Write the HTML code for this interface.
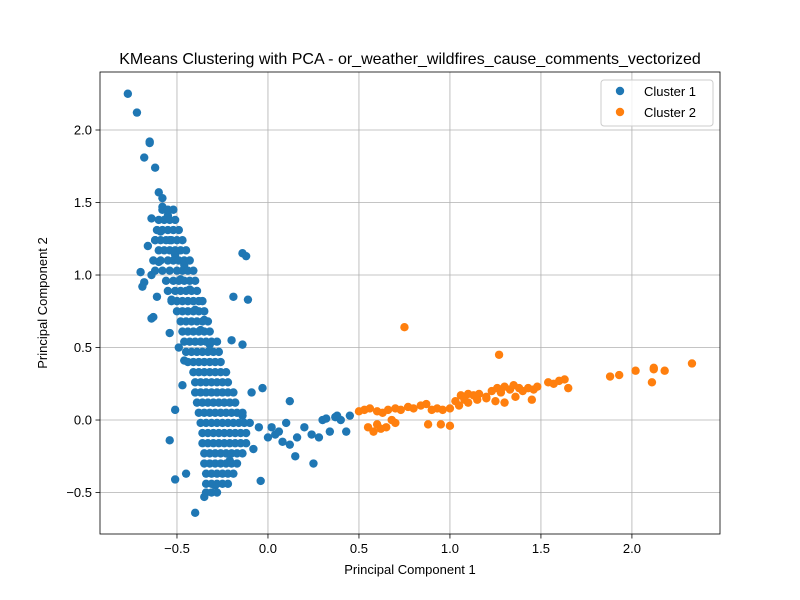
<!DOCTYPE html>
<html><head><meta charset="utf-8"><style>
body{margin:0;background:#fff;}
svg{display:block;font-family:"Liberation Sans","DejaVu Sans",sans-serif;}
</style></head><body>
<svg id="chart" width="800" height="600">
<rect width="800" height="600" fill="#fff"/>
<g id="grid"></g><g id="pts"></g><g id="axes"></g>
<text x="410" y="64" text-anchor="middle" font-size="16">KMeans Clustering with PCA - or_weather_wildfires_cause_comments_vectorized</text>
<text x="410" y="574" text-anchor="middle" font-size="13">Principal Component 1</text>
<text transform="translate(47,303) rotate(-90)" text-anchor="middle" font-size="13">Principal Component 2</text>
<g>
<rect x="601" y="80" width="112" height="46" fill="#fff" fill-opacity="0.8" stroke="#ccc" rx="3"/>
<circle cx="620" cy="91" r="4.2" fill="#1f77b4"/>
<text x="644" y="96" font-size="13">Cluster 1</text>
<circle cx="620" cy="112" r="4.2" fill="#ff7f0e"/>
<text x="644" y="117" font-size="13">Cluster 2</text>
</g>
</svg>
<script>
const xTicks=[-0.5,0.0,0.5,1.0,1.5,2.0];
const yTicks=[-0.5,0.0,0.5,1.0,1.5,2.0];
const xTickLabels=["−0.5","0.0","0.5","1.0","1.5","2.0"];
const yTickLabels=["−0.5","0.0","0.5","1.0","1.5","2.0"];
const c1x=[-0.77,-0.72,-0.65,-0.65,-0.68,-0.62,-0.6,-0.58,-0.58,-0.64,-0.55,-0.59,-0.62,-0.54,-0.51,-0.6,-0.64,-0.68,-0.69,-0.61,-0.63,-0.64,-0.53,-0.48,-0.46,-0.43,-0.4,-0.54,-0.49,-0.37,-0.35,-0.32,-0.46,-0.47,-0.51,-0.54,-0.51,-0.45,-0.4,-0.35,-0.29,-0.21,-0.14,-0.04,-0.03,-0.19,-0.11,-0.14,-0.12,-0.2,-0.14,-0.09,0.12,
0.04,0.12,0.16,0.2,0.28,0.34,0.4,0.45,0.25,0.15,0.08,0.02,0.3,0.37,0.24,0.06,0.1,-0.08,-0.05,0.0,0.43,0.38,0.32,-0.66,-0.7];
const c1y=[2.25,2.12,1.92,1.91,1.81,1.74,1.57,1.53,1.47,1.39,1.41,1.3,1.24,1.24,1.14,1.09,1.0,0.95,0.92,0.85,0.71,0.7,0.83,0.97,1.07,0.9,0.76,0.6,0.5,0.62,0.69,0.52,0.41,0.24,0.07,-0.14,-0.41,-0.37,-0.64,-0.53,-0.45,-0.28,0.03,-0.42,0.22,0.85,0.83,1.15,1.13,0.55,0.52,0.19,0.13,
-0.1,-0.17,-0.12,-0.05,-0.12,-0.08,0.0,0.03,-0.3,-0.25,-0.15,-0.05,0.0,0.02,-0.1,-0.08,-0.02,-0.2,-0.05,-0.12,-0.08,0.03,0.01,1.2,1.02];
const blobRowY=[1.45,1.38,1.31,1.24,1.17,1.1,1.03,0.96,0.89,0.82,0.75,0.68,0.61,0.54,0.47,0.4,0.33,0.26,0.19,0.12,0.05,-0.02,-0.09,-0.16,-0.23,-0.3,-0.37,-0.44,-0.5];
const blobRowX=[
[-0.58,-0.55,-0.52],
[-0.6,-0.57,-0.54,-0.51],
[-0.61,-0.58,-0.55,-0.52,-0.49],
[-0.62,-0.59,-0.56,-0.53,-0.5,-0.47],
[-0.6,-0.57,-0.54,-0.51,-0.48,-0.45],
[-0.63,-0.59,-0.55,-0.52,-0.49,-0.46,-0.43],
[-0.62,-0.58,-0.54,-0.5,-0.47,-0.44,-0.41],
[-0.56,-0.52,-0.49,-0.46,-0.43,-0.4],
[-0.55,-0.51,-0.48,-0.45,-0.42,-0.39],
[-0.53,-0.5,-0.47,-0.44,-0.41,-0.38,-0.36],
[-0.5,-0.47,-0.44,-0.41,-0.38,-0.35],
[-0.48,-0.45,-0.42,-0.39,-0.36,-0.33],
[-0.47,-0.44,-0.41,-0.38,-0.35,-0.32],
[-0.46,-0.43,-0.4,-0.37,-0.34,-0.31,-0.28],
[-0.45,-0.42,-0.39,-0.36,-0.33,-0.3,-0.27],
[-0.44,-0.41,-0.38,-0.35,-0.32,-0.29,-0.26],
[-0.41,-0.38,-0.35,-0.32,-0.29,-0.26,-0.23],
[-0.4,-0.37,-0.34,-0.31,-0.28,-0.25,-0.22],
[-0.4,-0.37,-0.34,-0.31,-0.28,-0.25,-0.22,-0.19],
[-0.39,-0.36,-0.33,-0.3,-0.27,-0.24,-0.21,-0.18],
[-0.38,-0.35,-0.32,-0.29,-0.26,-0.23,-0.2,-0.17,-0.14],
[-0.37,-0.34,-0.31,-0.28,-0.25,-0.22,-0.19,-0.16,-0.13,-0.1],
[-0.36,-0.33,-0.3,-0.27,-0.24,-0.21,-0.18,-0.15,-0.12],
[-0.36,-0.33,-0.3,-0.27,-0.24,-0.21,-0.18,-0.15,-0.12],
[-0.35,-0.32,-0.29,-0.26,-0.23,-0.2,-0.17,-0.14],
[-0.35,-0.32,-0.29,-0.26,-0.23,-0.2,-0.17],
[-0.34,-0.31,-0.28,-0.25,-0.22,-0.19],
[-0.34,-0.31,-0.28,-0.25,-0.22],
[-0.34,-0.31,-0.28]];
const c2x=[0.5,0.53,0.56,0.6,0.63,0.66,0.7,0.73,0.77,0.8,0.84,0.87,0.9,0.93,0.96,1.0,1.03,1.06,1.08,1.1,1.13,1.16,1.2,1.23,1.26,1.28,1.3,1.33,1.35,1.38,1.4,1.43,1.46,1.48,1.54,1.57,1.6,1.63,1.65,
0.55,0.58,0.6,0.65,0.7,0.88,0.95,1.0,1.05,1.1,1.15,1.2,1.25,1.3,1.36,1.45,0.62,0.68,
0.75,1.27,1.88,1.93,2.02,2.12,2.11,2.18,2.33,2.12];
const c2y=[0.06,0.07,0.08,0.06,0.05,0.07,0.08,0.07,0.09,0.08,0.1,0.11,0.07,0.08,0.07,0.08,0.13,0.17,0.14,0.18,0.17,0.18,0.16,0.2,0.22,0.19,0.23,0.21,0.24,0.22,0.2,0.22,0.21,0.23,0.26,0.25,0.27,0.28,0.22,
-0.05,-0.08,-0.03,-0.05,-0.02,-0.03,-0.03,-0.04,0.1,0.12,0.14,0.15,0.13,0.12,0.16,0.14,-0.06,0.0,
0.64,0.45,0.3,0.31,0.34,0.36,0.26,0.34,0.39,0.35];
const X0=100,X1=720,Y0=72,Y1=534,xmin=-0.923,xmax=2.484,ymin=-0.786,ymax=2.4;
const sx=v=>X0+(v-xmin)/(xmax-xmin)*(X1-X0);
const sy=v=>Y1-(v-ymin)/(ymax-ymin)*(Y1-Y0);
const NS="http://www.w3.org/2000/svg";
function mk(t,a,p){const e=document.createElementNS(NS,t);for(const k in a)e.setAttribute(k,a[k]);p.appendChild(e);return e;}
const grid=document.getElementById('grid'),pts=document.getElementById('pts'),axes=document.getElementById('axes');
xTicks.forEach((v,i)=>{const x=sx(v);
const g=mk('line',{x1:x,x2:x,y1:Y0,y2:Y1,stroke:'#b0b0b0','stroke-width':0.8},grid);


mk('line',{x1:x,x2:x,y1:Y1,y2:Y1+4.5,stroke:'#000','stroke-width':0.8},axes);
const t=mk('text',{x:x,y:Y1+19,'text-anchor':'middle','font-size':13},axes);t.textContent=xTickLabels[i];

});
yTicks.forEach((v,i)=>{const y=sy(v);
const g=mk('line',{x1:X0,x2:X1,y1:y,y2:y,stroke:'#b0b0b0','stroke-width':0.8},grid);


mk('line',{x1:X0-4.5,x2:X0,y1:y,y2:y,stroke:'#000','stroke-width':0.8},axes);
const t=mk('text',{x:X0-8,y:y+4.5,'text-anchor':'end','font-size':13},axes);t.textContent=yTickLabels[i];

});
const fr=mk('rect',{x:X0,y:Y0,width:X1-X0,height:Y1-Y0,fill:'none',stroke:'#000','stroke-width':0.8},axes);


c1x.forEach((v,i)=>{const c=mk('circle',{cx:sx(v),cy:sy(c1y[i]),r:4.2,fill:'#1f77b4'},pts);

});
blobRowY.forEach((y,r)=>{blobRowX[r].forEach(v=>{const c=mk('circle',{cx:sx(v),cy:sy(y),r:4.2,fill:'#1f77b4'},pts);

});});
c2x.forEach((v,i)=>{const c=mk('circle',{cx:sx(v),cy:sy(c2y[i]),r:4.2,fill:'#ff7f0e'},pts);

});
</script>
</body></html>
